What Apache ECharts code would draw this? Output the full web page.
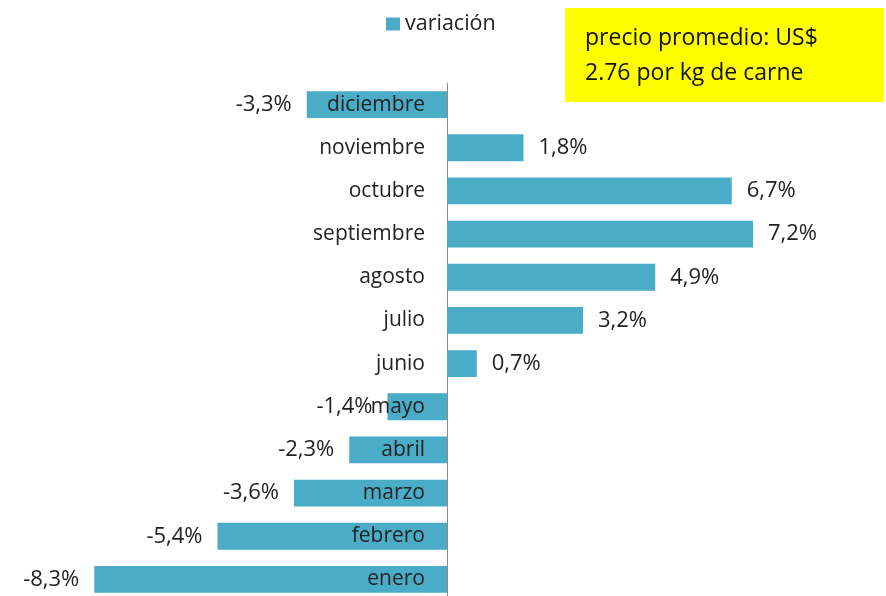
<!DOCTYPE html>
<html>
<head>
<meta charset="utf-8">
<script src="https://cdn.jsdelivr.net/npm/echarts@6/dist/echarts.min.js"></script>
<style>
  html, body { margin: 0; padding: 0; background: #fff; }
  #main-chart { width: 886px; height: 596px; }
</style>
</head>
<body>
<div id="main-chart"></div>
<script>
// datos
const meses = ['enero', 'febrero', 'marzo', 'abril', 'mayo', 'junio',
  'julio', 'agosto', 'septiembre', 'octubre', 'noviembre', 'diciembre']
const variacion = [-8.3, -5.4, -3.6, -2.3, -1.4, 0.7, 3.2, 4.9, 7.2, 6.7, 1.8, -3.3]
const nota = ['precio promedio: US$', '2.76 por kg de carne']

const FONT = 'Open Sans'
const myChart = echarts.init(document.getElementById('main-chart'))

const option = {
  textStyle: { fontFamily: FONT },
  legend: {
    data: ['variación'],
    top: 8,
    left: 381,
    itemWidth: 14,
    itemHeight: 13,
    itemGap: 5,
    icon: 'rect',
    textStyle: { fontFamily: FONT, fontSize: 21.5, color: '#222' }
  },
  grid: {
    left: 22,
    right: 99,
    top: 83,
    bottom: -5,
    containLabel: false,
    outerBoundsMode: 'none'
  },
  xAxis: {
    type: 'value',
    min: -10,
    max: 8,
    show: false,
    splitLine: { show: false }
  },
  yAxis: {
    type: 'category',
    data: meses,
    axisTick: { show: false },
    axisLine: { show: true, onZero: true, lineStyle: { color: '#8c8c8c', width: 1 } },
    axisLabel: { show: false }
  },
  graphic: [
    {
      type: 'rect',
      shape: { x: 565, y: 8, width: 319, height: 94 },
      style: { fill: '#ffff00' }
    },
    {
      type: 'text',
      left: 585,
      top: 21,
      style: {
        text: nota.join('\n'),
        font: '23px "' + FONT + '"',
        lineHeight: 35,
        fill: '#111'
      }
    }
  ],
  series: [
    {
      name: 'variación',
      type: 'bar',
      barWidth: '62%',
      itemStyle: { color: '#4aacc6' },
      data: variacion.map(v => ({
        value: v,
        label: { position: v < 0 ? 'left' : 'right' }
      })),
      label: {
        show: true,
        distance: 15,
        fontSize: 22,
        color: '#222',
        fontFamily: FONT,
        formatter: p => p.value.toFixed(1).replace('.', ',') + '%'
      }
    },
    {
      // nombres de mes junto al eje cero
      name: 'meses',
      type: 'scatter',
      symbolSize: 0,
      z: 5,
      silent: true,
      itemStyle: { opacity: 1 },
      data: meses.map(m => [0, m]),
      label: {
        show: true,
        position: 'left',
        distance: 22,
        fontSize: 21,
        color: '#222',
        opacity: 1,
        fontFamily: FONT,
        formatter: p => p.value[1]
      }
    }
  ]
}

myChart.setOption(option)
</script>
</body>
</html>
